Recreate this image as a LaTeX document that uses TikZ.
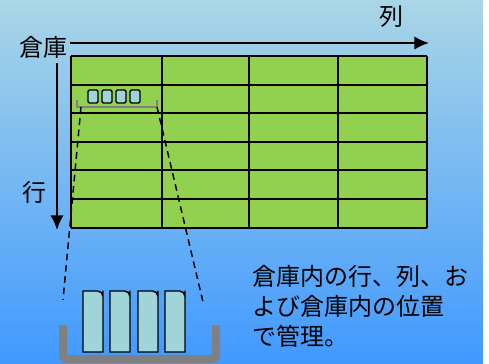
\documentclass[tikz,border=0pt]{standalone}
\usepackage{fontspec}
\setmainfont{Noto Sans CJK JP}
\usetikzlibrary{shapes,backgrounds}
\usetikzlibrary{arrows.meta}

\definecolor{skytop}{RGB}{170,214,230}
\definecolor{skybottom}{RGB}{64,153,255}
\definecolor{cellgreen}{RGB}{146,208,80}
\definecolor{boxcyan}{RGB}{160,212,216}
\definecolor{traygray}{RGB}{128,128,128}

\begin{document}
\begin{tikzpicture}[x=0.75pt, y=-0.75pt,
  font=\fontsize{18}{22.5}\selectfont,
  axis/.style={line width=1.5pt, -{Latex[length=11pt,width=10pt]}},
  gridline/.style={line width=1.1pt},
  itembox/.style={draw=black, line width=1.1pt, fill=boxcyan},
  tray/.style={draw=traygray, line cap=butt, line join=round}]
\useasboundingbox (0,0) rectangle (489,364);
\shade[top color=skytop, bottom color=skybottom] (0,0) rectangle (483,364);
% warehouse grid
\fill[cellgreen] (71,56) rectangle (427,228);
\foreach \x in {71,162,249,338,427} % columns
\draw[gridline] (\x,56) -- (\x,228);
\foreach \y in {56,85,113,142,170,199,228} % rows
\draw[gridline] (71,\y) -- (427,\y);
% labels
\node[anchor=east, inner sep=0pt] (soko) at (68,47) {倉庫};
\node[inner sep=0pt] (retsu) at (391,17) {列};
\node[inner sep=0pt] (gyo) at (34,192) {行};
\coordinate (hstart) at (70,43);
\coordinate (hend) at (429,43);
\coordinate (vstart) at (57,63);
\coordinate (vend) at (57,230);
\draw[axis] (hstart) -- (hend);
\draw[axis] (vstart) -- (vend);
% small tray in the cell
\foreach \x in {88,102,116,130}
\draw[itembox, rounded corners=1pt] (\x,90) rectangle ++(10,13);
\draw[tray, line width=2.2pt] (77,100) -- (77,107) -- (157,107) -- (157,100);
\coordinate (sleft) at (81,107);
\coordinate (sright) at (157,107);
% big tray
\coordinate (bleft) at (63,300);
\coordinate (bright) at (203,302);
\draw[dashed, line width=1.1pt, dash pattern=on 5pt off 3.5pt] (sleft) -- (bleft);
\draw[dashed, line width=1.1pt, dash pattern=on 5pt off 3.5pt] (sright) -- (bright);
\foreach \x in {83,110,138,165}
\draw[itembox] (\x,352) -- (\x,291) -- ({\x+15},291) [rounded corners=4pt] -- ({\x+20},291) -- ({\x+20},296) [sharp corners] -- ({\x+20},352) -- cycle;
\draw[tray, line width=6pt, rounded corners=2pt] (63,325) -- (63,359) -- (216,359) -- (216,325);
\node[anchor=west, align=left, inner sep=0pt] (note) at (252,306)
{倉庫内の行、列、お\\よび倉庫内の位置\\で管理。};
\end{tikzpicture}
\end{document}
